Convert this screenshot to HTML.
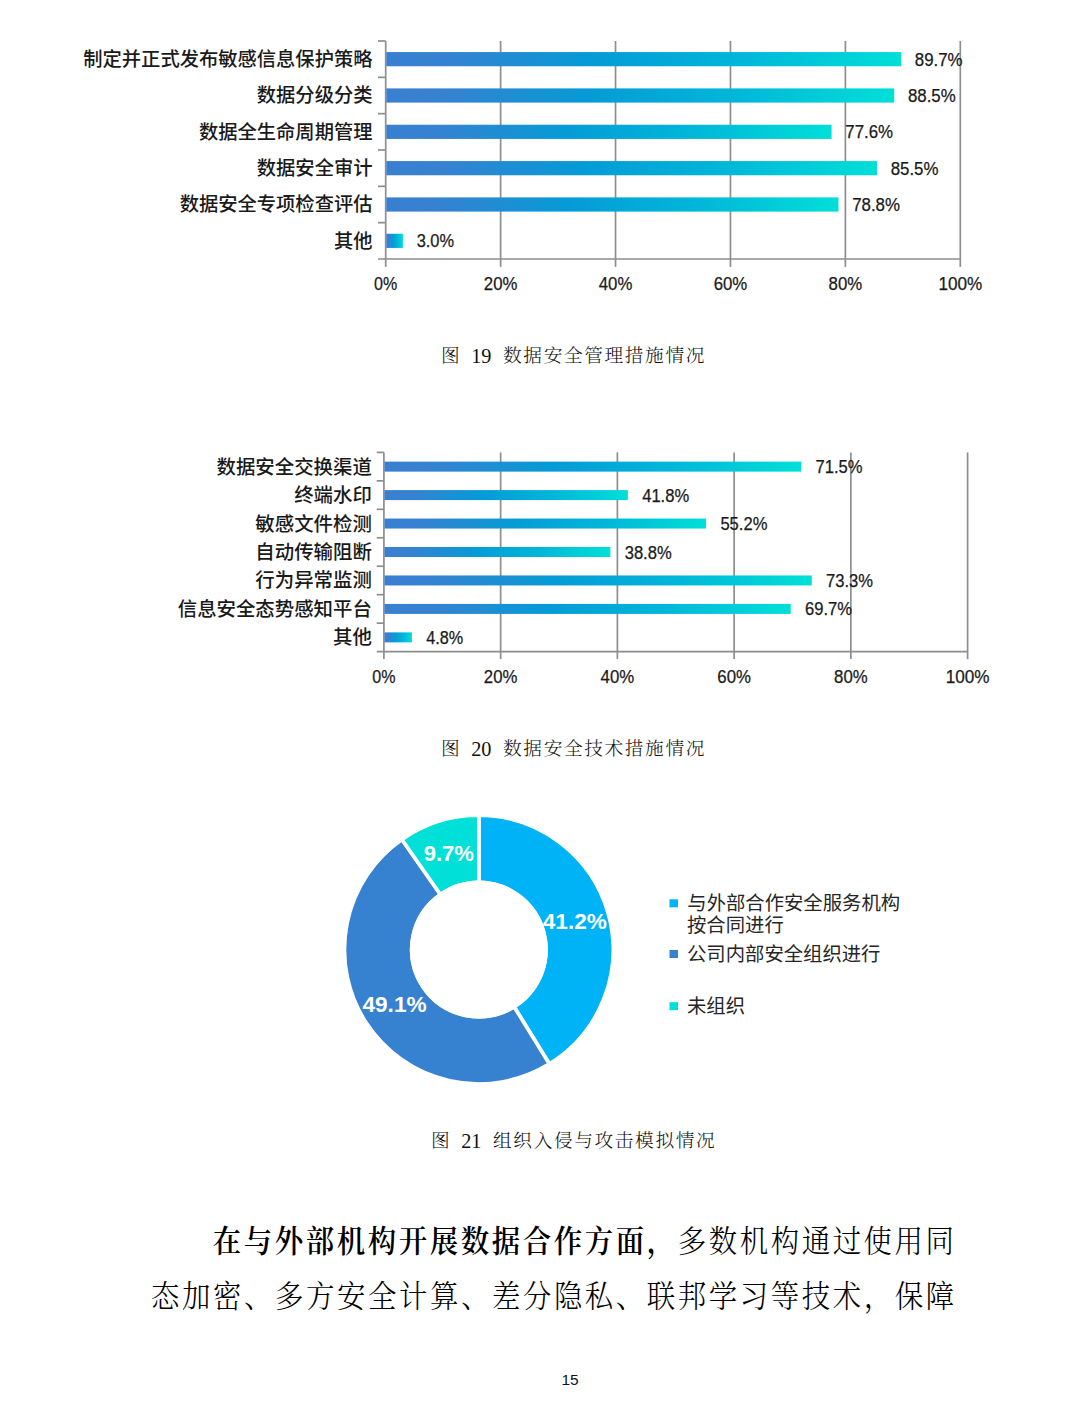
<!DOCTYPE html>
<html lang="zh-CN">
<head>
<meta charset="utf-8">
<title>数据安全措施情况</title>
<style>
html,body{margin:0;padding:0;background:#fff;}
body{width:1080px;height:1407px;position:relative;overflow:hidden;font-family:"Liberation Sans", "Noto Sans CJK SC", sans-serif;color:#000;}
svg{position:absolute;left:0;top:0;}
.cap{position:absolute;white-space:nowrap;font-family:"Liberation Serif", "Noto Serif CJK SC", serif;font-size:18.7px;letter-spacing:1.6px;line-height:24px;height:24px;color:#111;font-weight:300;}
.cap .n{font-size:20.3px;letter-spacing:0;font-weight:400;}
.cap span{position:absolute;top:0;}
.body{position:absolute;left:151px;width:830px;font-family:"Liberation Serif", "Noto Serif CJK SC", serif;font-size:28.4px;letter-spacing:2.6px;line-height:50.5px;color:#000;white-space:nowrap;font-weight:300;transform:scaleY(1.07);transform-origin:0 0;}
.body b{font-weight:600;}
.pn{position:absolute;left:540px;width:60px;text-align:center;top:1370.4px;font-size:15.5px;line-height:20px;font-family:"Liberation Sans", "Noto Sans CJK SC", sans-serif;color:#111;}
.lab{font-family:"Liberation Sans", "Noto Sans CJK SC", sans-serif;font-weight:500;font-size:19.3px;fill:#1a1a1a;}
.num{font-family:"Liberation Sans", "Noto Sans CJK SC", sans-serif;font-size:18px;fill:#1a1a1a;stroke:#1a1a1a;stroke-width:0.25px;}
.leg{font-family:"Liberation Sans", "Noto Sans CJK SC", sans-serif;font-size:19.35px;fill:#262626;}
.pct{font-family:"Liberation Sans", "Noto Sans CJK SC", sans-serif;font-weight:700;font-size:22.3px;fill:#fff;}
</style>
</head>
<body>

<svg width="1080" height="1407" viewBox="0 0 1080 1407">
<defs>
<linearGradient id="g" x1="0" y1="0" x2="1" y2="0">
<stop offset="0" stop-color="#3a7fd0"/>
<stop offset="0.12" stop-color="#3582d1"/>
<stop offset="0.4" stop-color="#059bd6"/>
<stop offset="0.7" stop-color="#00b8d9"/>
<stop offset="1" stop-color="#00dfd8"/>
</linearGradient>
</defs>
<g>
<line x1="385.70" y1="41.00" x2="385.70" y2="266.90" stroke="#8e8e8e" stroke-width="1.7"/>
<line x1="500.62" y1="41.00" x2="500.62" y2="266.90" stroke="#8e8e8e" stroke-width="1.7"/>
<line x1="615.54" y1="41.00" x2="615.54" y2="266.90" stroke="#8e8e8e" stroke-width="1.7"/>
<line x1="730.46" y1="41.00" x2="730.46" y2="266.90" stroke="#8e8e8e" stroke-width="1.7"/>
<line x1="845.38" y1="41.00" x2="845.38" y2="266.90" stroke="#8e8e8e" stroke-width="1.7"/>
<line x1="960.30" y1="41.00" x2="960.30" y2="266.90" stroke="#8e8e8e" stroke-width="1.7"/>
<line x1="378.00" y1="259.00" x2="960.30" y2="259.00" stroke="#8e8e8e" stroke-width="1.7"/>
<line x1="378.00" y1="41.00" x2="385.70" y2="41.00" stroke="#8e8e8e" stroke-width="1.7"/>
<line x1="378.00" y1="77.33" x2="385.70" y2="77.33" stroke="#8e8e8e" stroke-width="1.7"/>
<line x1="378.00" y1="113.67" x2="385.70" y2="113.67" stroke="#8e8e8e" stroke-width="1.7"/>
<line x1="378.00" y1="150.00" x2="385.70" y2="150.00" stroke="#8e8e8e" stroke-width="1.7"/>
<line x1="378.00" y1="186.33" x2="385.70" y2="186.33" stroke="#8e8e8e" stroke-width="1.7"/>
<line x1="378.00" y1="222.67" x2="385.70" y2="222.67" stroke="#8e8e8e" stroke-width="1.7"/>
<rect x="386.30" y="52.07" width="514.82" height="14.20" fill="url(#g)"/>
<text class="lab" style="font-size:19.30px" x="372.50" y="66.11" text-anchor="end">制定并正式发布敏感信息保护策略</text>
<text class="num" x="914.82" y="65.67" textLength="47.8" lengthAdjust="spacingAndGlyphs">89.7%</text>
<rect x="386.30" y="88.40" width="507.92" height="14.20" fill="url(#g)"/>
<text class="lab" style="font-size:19.30px" x="372.50" y="102.45" text-anchor="end">数据分级分类</text>
<text class="num" x="907.92" y="102.00" textLength="47.8" lengthAdjust="spacingAndGlyphs">88.5%</text>
<rect x="386.30" y="124.73" width="445.29" height="14.20" fill="url(#g)"/>
<text class="lab" style="font-size:19.30px" x="372.50" y="138.78" text-anchor="end">数据全生命周期管理</text>
<text class="num" x="845.29" y="138.33" textLength="47.8" lengthAdjust="spacingAndGlyphs">77.6%</text>
<rect x="386.30" y="161.07" width="490.68" height="14.20" fill="url(#g)"/>
<text class="lab" style="font-size:19.30px" x="372.50" y="175.11" text-anchor="end">数据安全审计</text>
<text class="num" x="890.68" y="174.67" textLength="47.8" lengthAdjust="spacingAndGlyphs">85.5%</text>
<rect x="386.30" y="197.40" width="452.18" height="14.20" fill="url(#g)"/>
<text class="lab" style="font-size:19.30px" x="372.50" y="211.45" text-anchor="end">数据安全专项检查评估</text>
<text class="num" x="852.18" y="211.00" textLength="47.8" lengthAdjust="spacingAndGlyphs">78.8%</text>
<rect x="386.30" y="233.73" width="16.64" height="14.20" fill="url(#g)"/>
<text class="lab" style="font-size:19.30px" x="372.50" y="247.78" text-anchor="end">其他</text>
<text class="num" x="416.64" y="247.33" textLength="37.4" lengthAdjust="spacingAndGlyphs">3.0%</text>
<text class="num" x="374.10" y="289.80" textLength="23.2" lengthAdjust="spacingAndGlyphs">0%</text>
<text class="num" x="483.82" y="289.80" textLength="33.6" lengthAdjust="spacingAndGlyphs">20%</text>
<text class="num" x="598.74" y="289.80" textLength="33.6" lengthAdjust="spacingAndGlyphs">40%</text>
<text class="num" x="713.66" y="289.80" textLength="33.6" lengthAdjust="spacingAndGlyphs">60%</text>
<text class="num" x="828.58" y="289.80" textLength="33.6" lengthAdjust="spacingAndGlyphs">80%</text>
<text class="num" x="938.40" y="289.80" textLength="43.8" lengthAdjust="spacingAndGlyphs">100%</text>
</g>
<g>
<line x1="383.90" y1="452.40" x2="383.90" y2="659.10" stroke="#8e8e8e" stroke-width="1.7"/>
<line x1="500.64" y1="452.40" x2="500.64" y2="659.10" stroke="#8e8e8e" stroke-width="1.7"/>
<line x1="617.38" y1="452.40" x2="617.38" y2="659.10" stroke="#8e8e8e" stroke-width="1.7"/>
<line x1="734.12" y1="452.40" x2="734.12" y2="659.10" stroke="#8e8e8e" stroke-width="1.7"/>
<line x1="850.86" y1="452.40" x2="850.86" y2="659.10" stroke="#8e8e8e" stroke-width="1.7"/>
<line x1="967.60" y1="452.40" x2="967.60" y2="659.10" stroke="#8e8e8e" stroke-width="1.7"/>
<line x1="376.70" y1="651.60" x2="967.60" y2="651.60" stroke="#8e8e8e" stroke-width="1.7"/>
<line x1="376.70" y1="452.40" x2="383.90" y2="452.40" stroke="#8e8e8e" stroke-width="1.7"/>
<line x1="376.70" y1="480.86" x2="383.90" y2="480.86" stroke="#8e8e8e" stroke-width="1.7"/>
<line x1="376.70" y1="509.31" x2="383.90" y2="509.31" stroke="#8e8e8e" stroke-width="1.7"/>
<line x1="376.70" y1="537.77" x2="383.90" y2="537.77" stroke="#8e8e8e" stroke-width="1.7"/>
<line x1="376.70" y1="566.23" x2="383.90" y2="566.23" stroke="#8e8e8e" stroke-width="1.7"/>
<line x1="376.70" y1="594.69" x2="383.90" y2="594.69" stroke="#8e8e8e" stroke-width="1.7"/>
<line x1="376.70" y1="623.14" x2="383.90" y2="623.14" stroke="#8e8e8e" stroke-width="1.7"/>
<rect x="384.50" y="461.63" width="416.75" height="10.00" fill="url(#g)"/>
<text class="lab" style="font-size:19.42px" x="371.80" y="473.62" text-anchor="end">数据安全交换渠道</text>
<text class="num" x="815.55" y="473.13" textLength="47.0" lengthAdjust="spacingAndGlyphs">71.5%</text>
<rect x="384.50" y="490.09" width="243.39" height="10.00" fill="url(#g)"/>
<text class="lab" style="font-size:19.42px" x="371.80" y="502.08" text-anchor="end">终端水印</text>
<text class="num" x="642.19" y="501.59" textLength="47.0" lengthAdjust="spacingAndGlyphs">41.8%</text>
<rect x="384.50" y="518.54" width="321.60" height="10.00" fill="url(#g)"/>
<text class="lab" style="font-size:19.42px" x="371.80" y="530.53" text-anchor="end">敏感文件检测</text>
<text class="num" x="720.40" y="530.04" textLength="47.0" lengthAdjust="spacingAndGlyphs">55.2%</text>
<rect x="384.50" y="547.00" width="225.88" height="10.00" fill="url(#g)"/>
<text class="lab" style="font-size:19.42px" x="371.80" y="558.99" text-anchor="end">自动传输阻断</text>
<text class="num" x="624.68" y="558.50" textLength="47.0" lengthAdjust="spacingAndGlyphs">38.8%</text>
<rect x="384.50" y="575.46" width="427.25" height="10.00" fill="url(#g)"/>
<text class="lab" style="font-size:19.42px" x="371.80" y="587.45" text-anchor="end">行为异常监测</text>
<text class="num" x="826.05" y="586.96" textLength="47.0" lengthAdjust="spacingAndGlyphs">73.3%</text>
<rect x="384.50" y="603.91" width="406.24" height="10.00" fill="url(#g)"/>
<text class="lab" style="font-size:19.42px" x="371.80" y="615.91" text-anchor="end">信息安全态势感知平台</text>
<text class="num" x="805.04" y="615.41" textLength="47.0" lengthAdjust="spacingAndGlyphs">69.7%</text>
<rect x="384.50" y="632.37" width="27.42" height="10.00" fill="url(#g)"/>
<text class="lab" style="font-size:19.42px" x="371.80" y="644.36" text-anchor="end">其他</text>
<text class="num" x="426.22" y="643.87" textLength="37.0" lengthAdjust="spacingAndGlyphs">4.8%</text>
<text class="num" x="372.30" y="682.50" textLength="23.2" lengthAdjust="spacingAndGlyphs">0%</text>
<text class="num" x="483.84" y="682.50" textLength="33.6" lengthAdjust="spacingAndGlyphs">20%</text>
<text class="num" x="600.58" y="682.50" textLength="33.6" lengthAdjust="spacingAndGlyphs">40%</text>
<text class="num" x="717.32" y="682.50" textLength="33.6" lengthAdjust="spacingAndGlyphs">60%</text>
<text class="num" x="834.06" y="682.50" textLength="33.6" lengthAdjust="spacingAndGlyphs">80%</text>
<text class="num" x="945.70" y="682.50" textLength="43.8" lengthAdjust="spacingAndGlyphs">100%</text>
</g>
<g>
<path d="M478.85 815.25 A134.35 134.35 0 0 1 549.41 1063.93 L514.12 1006.74 A67.15 67.15 0 0 0 478.85 882.45 Z" fill="#00b3f7" stroke="#fff" stroke-width="3.7" stroke-linejoin="miter"/>
<path d="M549.41 1063.93 A134.35 134.35 0 0 1 401.94 839.44 L440.41 894.54 A67.15 67.15 0 0 0 514.12 1006.74 Z" fill="#3681d0" stroke="#fff" stroke-width="3.7" stroke-linejoin="miter"/>
<path d="M401.94 839.44 A134.35 134.35 0 0 1 478.85 815.25 L478.85 882.45 A67.15 67.15 0 0 0 440.41 894.54 Z" fill="#00e0d8" stroke="#fff" stroke-width="3.7" stroke-linejoin="miter"/>
<circle cx="478.85" cy="949.60" r="136.10" fill="none" stroke="#fff" stroke-width="3.9"/>
<circle cx="478.85" cy="949.60" r="69.00" fill="#fff"/>
<text class="pct" x="542.8" y="929.3" textLength="64" lengthAdjust="spacingAndGlyphs">41.2%</text>
<text class="pct" x="362.4" y="1012.2" textLength="64.3" lengthAdjust="spacingAndGlyphs">49.1%</text>
<text class="pct" x="423.7" y="861.1" textLength="50.3" lengthAdjust="spacingAndGlyphs">9.7%</text>
</g>
<g>
<rect x="669.5" y="899.3" width="8.5" height="8" fill="#00b3f7"/>
<rect x="669.5" y="950" width="8.5" height="8" fill="#3681d0"/>
<rect x="669.5" y="1002.2" width="8.5" height="8" fill="#00e0d8"/>
<text class="leg" x="687.3" y="909.5">与外部合作安全服务机构</text>
<text class="leg" x="687" y="932">按合同进行</text>
<text class="leg" x="687" y="960.7">公司内部安全组织进行</text>
<text class="leg" x="687" y="1012.5">未组织</text>
</g>
</svg>
<div class="cap" style="left:441.7px;top:343.6px;"><span style="left:-0.7px">图</span><span class="n" style="left:29.5px">19</span><span style="left:61.4px">数据安全管理措施情况</span></div>
<div class="cap" style="left:441.7px;top:736.6px;"><span style="left:-0.7px">图</span><span class="n" style="left:29.5px">20</span><span style="left:61.4px">数据安全技术措施情况</span></div>
<div class="cap" style="left:431.7px;top:1129.1px;"><span style="left:-0.7px">图</span><span class="n" style="left:29.5px">21</span><span style="left:61.4px">组织入侵与攻击模拟情况</span></div>
<div class="body" style="top:1216px;"><span style="display:inline-block;width:61.8px;height:1px"></span><b>在与外部机构开展数据合作方面，</b>多数机构通过使用同<br>态加密、多方安全计算、差分隐私、联邦学习等技术，保障</div>
<div class="pn">15</div>
</body>
</html>
